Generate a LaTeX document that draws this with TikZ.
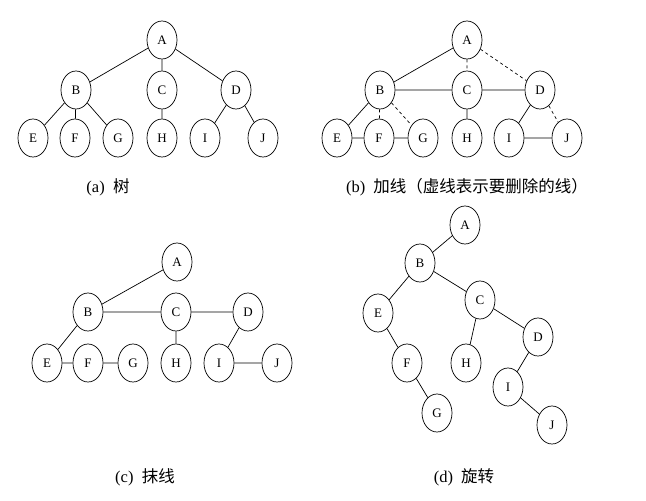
\documentclass[tikz,border=0pt]{standalone}
\usepackage{fontspec}
\setmainfont{Liberation Serif}
\newfontfamily\cjk{Noto Sans CJK SC}
\usepackage{tikz}
\usetikzlibrary{shapes.geometric}

\begin{document}
\begin{tikzpicture}[
  x=1pt, y=-1pt,
  vert/.style={draw, ellipse, line width=0.7pt, minimum width=30pt, minimum height=38pt, inner sep=0pt, font=\fontsize{13}{13}\selectfont},
  edge/.style={line width=0.7pt},
  gone/.style={edge, dash pattern=on 3pt off 3pt},
  caption/.style={font=\fontsize{16.5}{16.5}\selectfont}
]
  \useasboundingbox (0,0) rectangle (646,501);

  % (a) tree
  \node[vert] (aA) at (162,40) {A};
  \node[vert] (aB) at (76,90) {B};
  \node[vert] (aC) at (162,90) {C};
  \node[vert] (aD) at (236,90) {D};
  \node[vert] (aE) at (33,138) {E};
  \node[vert] (aF) at (75,138) {F};
  \node[vert] (aG) at (118,138) {G};
  \node[vert] (aH) at (162,138) {H};
  \node[vert] (aI) at (205,138) {I};
  \node[vert] (aJ) at (263,138) {J};
  \node[caption] (capa) at (108,187) {(a)\ \ {\cjk 树}};

  \draw[edge] (aA) -- (aB) (aA) -- (aC) (aA) -- (aD);
  \draw[edge] (aB) -- (aE) (aB) -- (aF) (aB) -- (aG);
  \draw[edge] (aC) -- (aH) (aD) -- (aI) (aD) -- (aJ);

  % (b) add lines
  \node[vert] (bA) at (467,40) {A};
  \node[vert] (bB) at (380,90) {B};
  \node[vert] (bC) at (467,90) {C};
  \node[vert] (bD) at (540,90) {D};
  \node[vert] (bE) at (337,138) {E};
  \node[vert] (bF) at (379,138) {F};
  \node[vert] (bG) at (423,138) {G};
  \node[vert] (bH) at (467,138) {H};
  \node[vert] (bI) at (509,138) {I};
  \node[vert] (bJ) at (567,138) {J};
  \node[caption] (capb) at (467,187) {(b)\ \ {\cjk 加线（虚线表示要删除的线）}};

  \draw[edge] (bA) -- (bB) (bB) -- (bC) (bC) -- (bD);
  \draw[edge] (bB) -- (bE) (bE) -- (bF) (bF) -- (bG);
  \draw[edge] (bC) -- (bH) (bD) -- (bI) (bI) -- (bJ);
  \draw[gone] (bA) -- (bC) (bA) -- (bD);
  \draw[gone] (bB) -- (bF) (bB) -- (bG) (bD) -- (bJ);

  % (c) remove lines
  \node[vert] (cA) at (177,262) {A};
  \node[vert] (cB) at (88,312) {B};
  \node[vert] (cC) at (176,312) {C};
  \node[vert] (cD) at (248,312) {D};
  \node[vert] (cE) at (47,363) {E};
  \node[vert] (cF) at (88,363) {F};
  \node[vert] (cG) at (133,363) {G};
  \node[vert] (cH) at (176,363) {H};
  \node[vert] (cI) at (219,363) {I};
  \node[vert] (cJ) at (277,363) {J};
  \node[caption] (capc) at (145,477) {(c)\ \ {\cjk 抹线}};

  \draw[edge] (cA) -- (cB) (cB) -- (cC) (cC) -- (cD);
  \draw[edge] (cB) -- (cE) (cE) -- (cF) (cF) -- (cG);
  \draw[edge] (cC) -- (cH) (cD) -- (cI) (cI) -- (cJ);

  % (d) rotate
  \node[vert] (dA) at (465,225) {A};
  \node[vert] (dB) at (420,263) {B};
  \node[vert] (dC) at (480,300) {C};
  \node[vert] (dD) at (538,337) {D};
  \node[vert] (dE) at (378,313) {E};
  \node[vert] (dF) at (407,363) {F};
  \node[vert] (dG) at (437,413) {G};
  \node[vert] (dH) at (466,363) {H};
  \node[vert] (dI) at (508,387) {I};
  \node[vert] (dJ) at (552,425) {J};
  \node[caption] (capd) at (464,477) {(d)\ \ {\cjk 旋转}};

  \draw[edge] (dA) -- (dB) (dB) -- (dE) (dB) -- (dC);
  \draw[edge] (dE) -- (dF) (dF) -- (dG) (dC) -- (dH);
  \draw[edge] (dC) -- (dD) (dD) -- (dI) (dI) -- (dJ);
\end{tikzpicture}
\end{document}
